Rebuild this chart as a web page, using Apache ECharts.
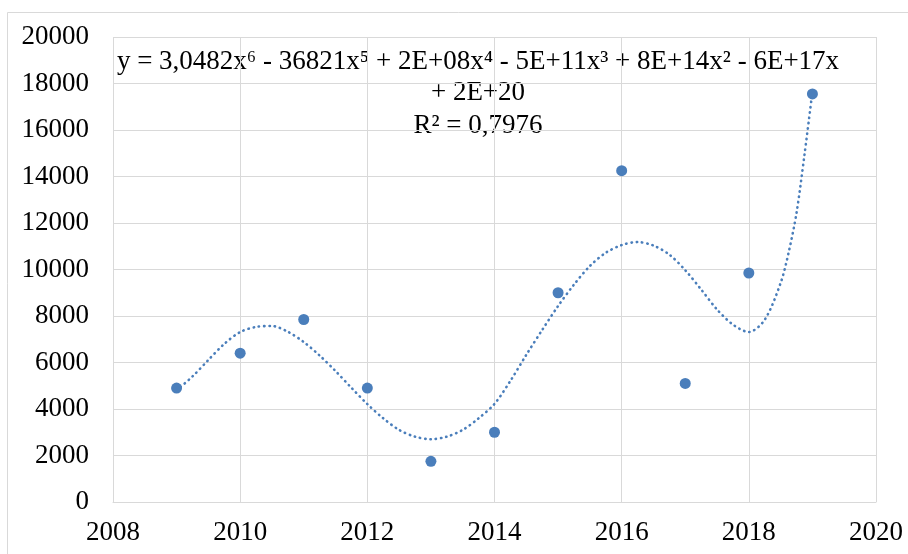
<!DOCTYPE html>
<html><head><meta charset="utf-8">
<script src="https://cdn.jsdelivr.net/npm/echarts@6/dist/echarts.min.js"></script>
<style>html,body{margin:0;padding:0;background:#fff}#c{width:908px;height:554px}</style>
</head><body><div id="c"></div>
<script>
const years = [2009, 2010, 2011, 2012, 2013, 2014, 2015, 2016, 2017, 2018, 2019];
const values = [4900, 6400, 7850, 4900, 1750, 3000, 9000, 14250, 5100, 9850, 17550];
const trendYears = [2009, 2009.25, 2009.5, 2009.75, 2010, 2010.25, 2010.5, 2010.75, 2011, 2011.25, 2011.5, 2011.75,
  2012, 2012.25, 2012.5, 2012.75, 2013, 2013.25, 2013.5, 2013.75, 2014, 2014.25, 2014.5, 2014.75,
  2015, 2015.25, 2015.5, 2015.75, 2016, 2016.25, 2016.5, 2016.75, 2017, 2017.25, 2017.5, 2017.75,
  2018, 2018.25, 2018.5, 2018.625, 2018.75, 2018.875, 2019];
const trendValues = [4800, 5400, 6110, 6800, 7310, 7530, 7570, 7320, 6880, 6300, 5630, 4910,
  4210, 3600, 3100, 2810, 2700, 2810, 3100, 3600, 4220, 5210, 6330, 7400,
  8430, 9350, 10150, 10720, 11050, 11180, 11030, 10640, 9970, 9140, 8280, 7630,
  7310, 7840, 9420, 10720, 12430, 14930, 17650];
const eqLines = ['y = 3,0482x⁶ - 36821x⁵ + 2E+08x⁴ - 5E+11x³ + 8E+14x² - 6E+17x', '+ 2E+20', 'R² = 0,7976'];

const font = '"Liberation Serif", "Times New Roman", serif';
const chart = echarts.init(document.getElementById('c'));
const eqText = (t, y) => ({type: 'text', silent: true, style: {text: t, x: 478, y: y, fontFamily: font, fontSize: 27, fill: '#000', textAlign: 'center', textVerticalAlign: 'middle'}});
chart.setOption({
  animation: false,
  backgroundColor: '#fff',
  grid: {left: 113, right: 32, top: 37, bottom: 52},
  xAxis: {
    type: 'value', min: 2008, max: 2020, interval: 2,
    axisLine: {show: true, lineStyle: {color: '#d9d9d9'}},
    axisTick: {show: false},
    splitLine: {show: true, lineStyle: {color: '#d9d9d9', width: 1}},
    axisLabel: {color: '#000', fontFamily: font, fontSize: 27, margin: 17, formatter: v => String(v)}
  },
  yAxis: {
    type: 'value', min: 0, max: 20000, interval: 2000,
    axisLine: {show: false},
    axisTick: {show: false},
    splitLine: {show: true, lineStyle: {color: '#d9d9d9', width: 1}},
    axisLabel: {color: '#000', fontFamily: font, fontSize: 27, margin: 24, formatter: v => String(v)}
  },
  series: [
    {
      type: 'line', data: trendYears.map((y, i) => [y, trendValues[i]]),
      smooth: 0.3, showSymbol: false, z: 2,
      lineStyle: {color: '#4a7ebb', width: 2.6, type: [0.4, 4.9], cap: 'round'}
    },
    {
      type: 'scatter', data: years.map((y, i) => [y, values[i]]),
      symbol: 'circle', symbolSize: 11, z: 3,
      itemStyle: {color: '#4a7ebb', opacity: 1}
    }
  ],
  graphic: [
    {type: 'rect', silent: true, shape: {x: 7.5, y: 12.5, width: 920, height: 560}, style: {fill: 'none', stroke: '#d9d9d9', lineWidth: 1}},
    eqText(eqLines[0], 62),
    eqText(eqLines[1], 93),
    eqText(eqLines[2], 126)
  ]
});
</script></body></html>
